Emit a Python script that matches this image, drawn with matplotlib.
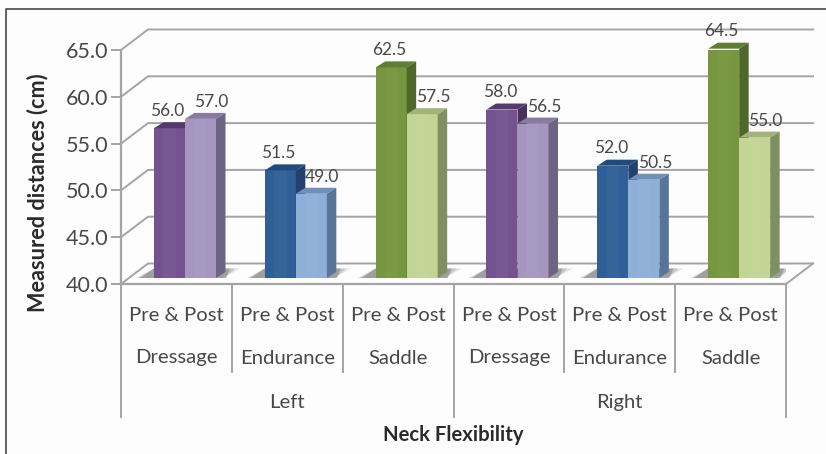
#plot.py

#COMMENT: Imports.

import numpy as np
import matplotlib
matplotlib.use('Agg')
import matplotlib.pyplot as plt

#COMMENT: Data.

disciplines = ['Dressage', 'Endurance', 'Saddle', 'Dressage', 'Endurance', 'Saddle']
sides = ['Left', 'Right']
pre_values = [56.0, 51.5, 62.5, 58.0, 52.0, 64.5]
post_values = [57.0, 49.0, 57.5, 56.5, 50.5, 55.0]
y_ticks = [40, 45, 50, 55, 60, 65]

#COMMENT: Colours as (front, top, side) for each discipline.

pre_colours = [('#75528f', '#553a70', '#48315f'), ('#2f5f96', '#1f4a7e', '#23406f'), ('#76963f', '#5f7d33', '#4f672b')] * 2
post_colours = [('#a596c0', '#887aa0', '#6d6482'), ('#8eafd8', '#6f90bb', '#587599'), ('#c3d594', '#a2b37a', '#7f8f60')] * 2

grid_colour = '#a4a4a4'
text_colour = '#484848'

plt.rcParams['font.family'] = ['Lato', 'DejaVu Sans']

W, H = 826.0, 454.0
fig = plt.figure(figsize = (W / 100, H / 100), dpi = 100, facecolor = '#fdfdfd')

#COMMENT: The axes is the front plane of the chart box.

ax = fig.add_axes([121 / W, 1 - 284 / H, 665 / W, 234 / H])
ax.set_xlim(0, 6)
ax.set_ylim(40, 65)
ax.patch.set_alpha(0)

px_x = 6.0 / 665
px_y = 25.0 / 234

#COMMENT: Depth of the box and of one bar, in data units.

box_dx, box_dy = 27 * px_x, 20.5 * px_y
bar_dx, bar_dy = 9.5 * px_x, 6 * px_y
front_dx, front_dy = 0.0, 6 * px_y

#COMMENT: Walls and gridlines.

for v in y_ticks:
    ax.plot([0, box_dx, 6 + box_dx], [v, v + box_dy, v + box_dy], color = grid_colour, lw = 1.4, clip_on = False, zorder = 1)
ax.plot([6, 6 + box_dx], [40, 40 + box_dy], color = grid_colour, lw = 1.4, clip_on = False, zorder = 1)

#COMMENT: Spines and ticks.

for name in ['top', 'right']:
    ax.spines[name].set_visible(False)
for name in ['left', 'bottom']:
    ax.spines[name].set_color(grid_colour)
    ax.spines[name].set_linewidth(1.6)
    ax.spines[name].set_zorder(2)
ax.set_xticks([])
ax.set_yticks(y_ticks)
ax.set_yticklabels(['%.1f' % v for v in y_ticks], fontsize = 15.5, color = text_colour)
ax.tick_params(axis = 'y', color = grid_colour, width = 1.4, length = 7, pad = 2)

#COMMENT: Bars drawn as front, top and side faces plus a floor shadow.

bar_w = 31 * px_x
start = 33 * px_x
base = 40 + front_dy

def draw_bar(x, value, colours):
    top = value + front_dy
    ax.bar(x, value - 40, bar_w, bottom = base, align = 'edge', color = colours[0], edgecolor = 'none', zorder = 4)
    ax.bar(x + bar_w * 0.3, value - 40, bar_w * 0.4, bottom = base, align = 'edge', color = 'white', alpha = 0.03, edgecolor = 'none', zorder = 4)
    ax.fill([x, x + bar_dx, x + bar_w + bar_dx, x + bar_w], [top, top + bar_dy, top + bar_dy, top], color = colours[1], lw = 0, clip_on = False, zorder = 4)
    ax.fill([x + bar_w, x + bar_w + bar_dx, x + bar_w + bar_dx, x + bar_w], [base, base + bar_dy, top + bar_dy, top], color = colours[2], lw = 0, clip_on = False, zorder = 4)

for g in range(6):
    x1 = g + start
    x2 = x1 + bar_w
    #COMMENT: Soft shadow, stacked polygons.
    for grow, alpha in zip([0, 5, 10], [0.5, 0.3, 0.2]):
        ax.fill([x1 - (14 + grow * 0.4) * px_x, x1, x2 + bar_w + (14 + grow) * px_x, x2 + bar_w + (10 - grow * 0.3) * px_x],
                [base, base + 9.5 * px_y, base + 9.5 * px_y, base], color = '#7c7c7c', alpha = alpha, lw = 0, zorder = 3)
    draw_bar(x1, pre_values[g], pre_colours[g])
    draw_bar(x2, post_values[g], post_colours[g])
    ax.text(x1 + bar_w / 2 - 2 * px_x, pre_values[g] + 23.5 * px_y, '%.1f' % pre_values[g], ha = 'center', va = 'center', fontsize = 12.5, color = text_colour, zorder = 6, clip_on = False)
    ax.text(x2 + bar_w / 2 + 11 * px_x, post_values[g] + 23 * px_y, '%.1f' % post_values[g], ha = 'center', va = 'center', fontsize = 12.5, color = text_colour, zorder = 6, clip_on = False)

#COMMENT: Multi level category axis below the plot.

def y_px(p):
    return 40 - (p - 284) * px_y

for g in range(7):
    end = 417 if g % 3 == 0 else 372
    ax.plot([g, g], [40, y_px(end)], color = grid_colour, lw = 1.4, clip_on = False, zorder = 1)

for g in range(6):
    ax.text(g + 0.5, y_px(315), 'Pre & Post', ha = 'center', va = 'center', fontsize = 14.6, color = text_colour, clip_on = False)
    ax.text(g + 0.5, y_px(358), disciplines[g], ha = 'center', va = 'center', fontsize = 14.6, color = text_colour, clip_on = False)

for i, side in enumerate(sides):
    ax.text(1.5 + 3 * i, y_px(402), side, ha = 'center', va = 'center', fontsize = 14.6, color = text_colour, clip_on = False)

ax.text(3, y_px(435), 'Neck Flexibility', ha = 'center', va = 'center', fontsize = 14.6, fontweight = 'bold', color = '#2b2b2b', clip_on = False)
fig.text(38 / W, 1 - 193 / H, 'Measured distances (cm)', rotation = 90, ha = 'center', va = 'center', fontsize = 15.6, fontweight = 'bold', color = '#2b2b2b')

#COMMENT: Outer frame, left and top edges only.

fig.add_artist(plt.Line2D([6 / W, 6 / W, 1], [0, 1 - 9 / H, 1 - 9 / H], color = '#555555', lw = 1.3))

plt.savefig('out.png', dpi = 100, facecolor = fig.get_facecolor())
plt.close()
